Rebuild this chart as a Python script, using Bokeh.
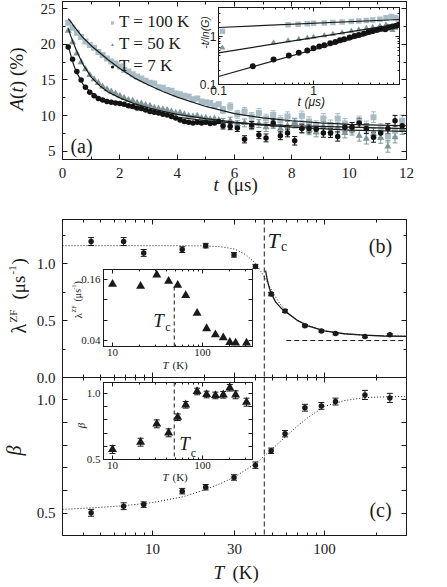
import math
from bokeh.plotting import figure
from bokeh.models import (Range1d, LinearAxis, LogAxis, FixedTicker, Whisker, TeeHead,
                          ColumnDataSource, Label, Span, Legend, LegendItem,
                          BasicTickFormatter, LogTickFormatter, PrintfTickFormatter)
from bokeh.embed import file_html
from bokeh.resources import INLINE

SERIF = "Liberation Serif"
SANS = "Liberation Sans"
INK = "#1a1a1a"
C100 = "#a9bdc6"
C50 = "#7e9599"
C7 = "#111111"

# ---------------- panel (a): asymmetry vs time ----------------
t_dense = [0.2, 0.35, 0.5, 0.65, 0.8, 0.95, 1.1, 1.25, 1.4, 1.55, 1.7, 1.85, 2.0, 2.15, 2.3, 2.45,
           2.6, 2.75, 2.9, 3.05, 3.2, 3.35, 3.5, 3.65, 3.8, 3.95, 4.1, 4.25, 4.4, 4.55, 4.7, 4.85,
           5.0, 5.15, 5.3, 5.45]
A100_dense = [23.0, 22.3, 21.6, 21.0, 20.4, 19.9, 19.5, 18.9, 18.5, 18.0, 17.6, 17.3, 16.9, 16.4, 16.2, 15.8,
              15.5, 15.2, 14.9, 14.6, 14.5, 14.0, 13.9, 13.6, 13.5, 13.1, 13.0, 12.8, 12.7, 12.3, 12.4, 12.0,
              11.9, 11.8, 11.4, 11.6]
A50_dense = [21.9, 20.3, 18.7, 17.5, 16.5, 15.7, 15.1, 14.6, 14.1, 13.7, 13.4, 13.1, 12.8, 12.5, 12.2, 12.1,
             11.8, 11.7, 11.5, 11.4, 11.1, 11.0, 10.9, 10.8, 10.6, 10.4, 10.4, 10.2, 10.0, 9.9, 10.0, 9.7,
             9.7, 9.5, 9.6, 9.4]
A7_dense = [19.6, 17.9, 16.2, 15.0, 14.0, 13.3, 12.8, 12.4, 12.2, 12.0, 11.9, 11.8, 11.7, 11.6, 11.4, 11.3,
            11.1, 11.0, 10.8, 10.6, 10.5, 10.4, 10.2, 10.1, 9.9, 9.7, 9.4, 9.2, 9.1, 9.0, 9.1, 9.0,
            9.1, 8.9, 9.0, 9.2]
t_sparse = [5.6, 5.85, 6.1, 6.35, 6.6, 6.85, 7.1, 7.35, 7.6, 7.85, 8.1, 8.35, 8.6, 8.85, 9.1, 9.35,
            9.6, 9.85, 10.1, 10.35, 10.6, 10.85, 11.1, 11.35, 11.6, 11.85]
A100_sparse = [10.8, 11.3, 10.2, 10.6, 9.9, 10.4, 9.6, 10.1, 9.4, 9.9, 8.9, 10.0, 9.2, 8.6, 9.6, 8.7,
               9.6, 8.9, 8.3, 9.2, 8.5, 9.8, 8.1, 7.1, 7.9, 9.3]
A50_sparse = [9.1, 9.3, 8.8, 9.0, 8.6, 8.9, 8.4, 8.8, 8.2, 8.6, 9.0, 8.3, 8.0, 7.7, 8.5, 7.9,
              8.3, 7.6, 8.0, 7.2, 6.8, 7.5, 6.9, 5.7, 7.0, 8.2]
A7_sparse = [8.6, 8.5, 8.3, 6.7, 8.7, 7.3, 6.9, 9.0, 7.2, 7.6, 6.5, 8.2, 8.2, 8.1, 7.6, 7.6,
             7.1, 8.4, 8.4, 9.0, 8.2, 7.0, 7.6, 8.2, 9.3, 8.6]
err100 = [0.5, 0.5, 0.55, 0.55, 0.55, 0.6, 0.6, 0.6, 0.6, 0.65, 0.65, 0.65, 0.65, 0.7, 0.7, 0.7,
          0.7, 0.7, 0.75, 0.75, 0.75, 0.75, 0.8, 0.8, 0.8, 0.8]
err50 = [0.5, 0.5, 0.5, 0.55, 0.55, 0.55, 0.6, 0.6, 0.6, 0.6, 0.65, 0.65, 0.65, 0.65, 0.7, 0.7,
         0.7, 0.7, 0.7, 0.75, 0.75, 0.75, 0.75, 0.8, 0.8, 0.8]
err7 = [0.45, 0.45, 0.5, 0.5, 0.5, 0.5, 0.55, 0.55, 0.55, 0.55, 0.6, 0.6, 0.6, 0.6, 0.6, 0.65,
        0.65, 0.65, 0.65, 0.65, 0.7, 0.7, 0.7, 0.7, 0.75, 0.75]
t_fit = [0.2, 0.3, 0.4, 0.5, 0.7, 1.0, 1.3, 1.6, 2.0, 2.5, 3.0, 3.5, 4.0, 5.0, 6.0, 7.0, 8.0, 9.0,
         10.0, 11.0, 12.0]
fit100 = [23.6, 23.1, 22.5, 22.0, 21.0, 19.8, 18.8, 17.8, 16.6, 15.3, 14.3, 13.4, 12.6, 11.3, 10.3, 9.7,
          9.3, 9.0, 8.8, 8.7, 8.6]
fit50 = [22.2, 21.0, 20.0, 19.0, 17.3, 15.4, 14.2, 13.3, 12.5, 11.7, 11.1, 10.6, 10.2, 9.6, 9.1, 8.7,
         8.4, 8.2, 8.0, 7.9, 7.8]
fit7 = [19.8, 18.3, 17.0, 16.0, 14.5, 13.2, 12.5, 12.0, 11.5, 11.0, 10.6, 10.2, 9.8, 9.3, 9.0, 8.8,
        8.6, 8.5, 8.4, 8.3, 8.2]
a_xticks = [0, 2, 4, 6, 8, 10, 12]
a_yticks = [5, 10, 15, 20, 25]
legend_labels = ["T = 100 K", "T = 50 K", "T = 7 K"]

# ---------------- inset of (a): -t/ln(G) vs t ----------------
in_t100 = [0.11, 0.54, 0.69, 0.86, 1.0, 1.3, 1.6, 2.0, 2.5, 3.0, 3.6, 4.2, 5.0, 5.8, 6.6, 7.3, 7.9]
in_g100 = [1.29, 1.75, 1.80, 1.84, 1.88, 1.92, 1.96, 2.0, 2.05, 2.1, 2.15, 2.2, 2.3, 2.45, 2.6, 2.45, 2.3]
in_t50 = [0.11, 0.38, 0.54, 0.70, 0.86, 1.0, 1.3, 1.6, 2.0, 2.5, 3.0, 3.6, 4.2, 5.0, 5.8, 6.3, 6.8, 7.3, 7.8]
in_g50 = [0.58, 0.74, 0.82, 0.88, 0.93, 0.97, 1.05, 1.12, 1.20, 1.30, 1.38, 1.48, 1.56, 1.66, 1.75, 1.45,
          1.35, 1.50, 1.70]
in_t7 = [0.23, 0.38, 0.55, 0.70, 0.86, 1.0, 1.15, 1.3, 1.5, 1.7, 1.9, 2.1, 2.4, 2.7, 3.0, 3.4, 3.8, 4.2,
         4.7, 5.2, 5.7, 6.2, 6.8, 7.4, 7.9]
in_g7 = [0.24, 0.33, 0.40, 0.46, 0.51, 0.57, 0.62, 0.66, 0.72, 0.77, 0.84, 0.88, 0.95, 1.02, 1.08, 1.15,
         1.24, 1.30, 1.38, 1.45, 1.42, 1.55, 1.62, 1.68, 1.75]
in_line_t = [0.1, 8.04]
in_line100 = [1.54, 2.26]
in_line50 = [0.457, 1.84]
in_line7 = [0.147, 1.69]

# ---------------- panels (b), (c) ----------------
T_main = [4.4, 6.8, 8.9, 14.9, 20.4, 29.8, 39.7, 49.0, 59.0, 77.0, 96.0, 116.0, 172.0, 240.0]
lam_main = [1.196, 1.196, 1.096, 1.125, 1.16, 1.079, 0.977, 0.734, 0.585, 0.456, 0.41, 0.386, 0.36, 0.375]
lam_err = [0.035, 0.035, 0.03, 0.025, 0.02, 0.02, 0.018, 0.015, 0.012, 0.01, 0.01, 0.01, 0.01, 0.01]
beta_main = [0.503, 0.532, 0.539, 0.598, 0.615, 0.658, 0.712, 0.775, 0.85, 0.964, 0.972, 0.991, 1.02, 1.007]
beta_err = [0.015, 0.015, 0.012, 0.012, 0.012, 0.012, 0.014, 0.012, 0.014, 0.015, 0.015, 0.015, 0.02, 0.02]
T_fitb = [3, 10, 20, 25, 30, 35, 40, 45, 50, 55, 60, 70, 80, 100, 130, 170, 220, 300]
lam_fitb = [1.16, 1.16, 1.158, 1.15, 1.13, 1.08, 1.0, 0.88, 0.75, 0.65, 0.58, 0.5, 0.46, 0.41, 0.385, 0.372,
            0.368, 0.365]
T_crit = [45.5, 46.5, 48, 49, 52, 56, 60, 70, 80, 100, 130, 170, 220, 300]
lam_crit = [0.94, 0.86, 0.78, 0.74, 0.665, 0.61, 0.575, 0.50, 0.455, 0.41, 0.385, 0.372, 0.365, 0.362]
T_bg = [60, 300]
lam_bg = [0.325, 0.325]
T_fitc = [3, 5, 7, 10, 15, 20, 25, 30, 40, 50, 60, 70, 80, 100, 130, 170, 230, 300]
beta_fitc = [0.518, 0.527, 0.535, 0.548, 0.573, 0.603, 0.632, 0.66, 0.72, 0.785, 0.84, 0.885, 0.92, 0.97,
             0.995, 1.008, 1.012, 1.013]
Tc = 44.7
T_ticks = [10, 30, 100]
T_minor = [3, 4, 5, 6, 7, 8, 9, 20, 40, 50, 60, 70, 80, 90, 200, 300]

# insets of (b) and (c)
T_in = [10, 20.5, 31, 42, 53, 65, 87, 111, 139, 170, 201, 233, 308]
lam_in = [0.151, 0.147, 0.169, 0.157, 0.149, 0.129, 0.094, 0.064, 0.052, 0.046, 0.037, 0.036, 0.036]
beta_in = [0.576, 0.631, 0.77, 0.702, 0.82, 0.914, 1.015, 0.992, 0.985, 0.99, 1.043, 0.99, 0.934]
beta_in_err = [0.03, 0.03, 0.03, 0.03, 0.025, 0.025, 0.025, 0.025, 0.025, 0.025, 0.025, 0.03, 0.03]
Tc_in = 48.5
Tc_in_line_lam = [0.0288, 0.147]
T_in_ticks = [10, 100]
T_in_minor = [20, 30, 40, 50, 60, 70, 80, 90, 200, 300]


class Frame:
    def __init__(self, fl, ft, fw, fh, xr, yr, xlog, ylog):
        self.fl, self.ft, self.fw, self.fh = fl, ft, fw, fh
        self.xr, self.yr, self.xlog, self.ylog = xr, yr, xlog, ylog


def mkfig(fr, bl, br, bt, bb, bg=None):
    p = figure(frame_width=fr.fw, frame_height=fr.fh,
               x_range=Range1d(*fr.xr), y_range=Range1d(*fr.yr),
               x_axis_type="log" if fr.xlog else "linear",
               y_axis_type="log" if fr.ylog else "linear",
               output_backend="svg", toolbar_location=None,
               min_border_left=bl, min_border_right=br, min_border_top=bt, min_border_bottom=bb,
               background_fill_color=bg, border_fill_color=None,
               styles={"position": "absolute", "left": f"{fr.fl - bl}px",
                       "top": f"{fr.ft - bt}px"})
    p.xgrid.visible = False
    p.ygrid.visible = False
    p.outline_line_color = INK
    return p


def setup_axes(p, fr, xt, xm, yt, ym, fs, font, tin=5, tmin=3, ytmin=None, xst=8, yst=7,
               xlabels=True, yfmt=None):
    bottom = p.below[0]
    left = p.left[0]
    top = LogAxis() if fr.xlog else LinearAxis()
    right = LogAxis() if fr.ylog else LinearAxis()
    p.add_layout(top, "above")
    p.add_layout(right, "right")
    if ytmin is None:
        ytmin = tmin
    xf = LogTickFormatter(min_exponent=4) if fr.xlog else BasicTickFormatter()
    if yfmt is not None:
        yf = PrintfTickFormatter(format=yfmt)
    else:
        yf = LogTickFormatter(min_exponent=4) if fr.ylog else BasicTickFormatter()
    for ax, t, m, show, st, mlen, f in (
            (bottom, xt, xm, xlabels, xst, tmin, xf), (top, xt, xm, False, 0, tmin, xf),
            (left, yt, ym, True, yst, ytmin, yf), (right, yt, ym, False, 0, ytmin, yf)):
        ax.ticker = FixedTicker(ticks=t, minor_ticks=m)
        ax.major_tick_in = tin
        ax.major_tick_out = 0
        ax.minor_tick_in = mlen
        ax.minor_tick_out = 0
        ax.axis_line_color = INK
        ax.major_tick_line_color = INK
        ax.minor_tick_line_color = INK
        ax.major_label_text_font = font
        ax.major_label_text_font_size = fs
        ax.major_label_text_color = INK
        ax.major_label_standoff = st
        if show:
            ax.formatter = f
        else:
            ax.major_label_overrides = {v: "" for v in t}


def whisk(p, xs, ys, es, color, head=5):
    src = ColumnDataSource(dict(x=xs, lo=[y - e for y, e in zip(ys, es)],
                                hi=[y + e for y, e in zip(ys, es)]))
    w = Whisker(source=src, base="x", lower="lo", upper="hi", line_color=color, line_width=1,
                lower_head=TeeHead(size=head, line_color=color, line_width=1),
                upper_head=TeeHead(size=head, line_color=color, line_width=1))
    p.add_layout(w)


ROT = math.pi / 2

# ================= figure (a) =================
fa = Frame(62, 1, 344, 158, (0, 12), (3.88, 25.98), False, False)
pa = mkfig(fa, 57, 26, 1, 36)
setup_axes(pa, fa, a_xticks, [1, 3, 5, 7, 9, 11], a_yticks, [7.5, 12.5, 17.5, 22.5], "15px", SERIF)
whisk(pa, t_sparse, A100_sparse, err100, C100)
whisk(pa, t_sparse, A50_sparse, err50, C50)
whisk(pa, t_sparse, A7_sparse, err7, C7)
r100 = pa.scatter(t_dense + t_sparse, A100_dense + A100_sparse, marker="square", size=6,
                  color=C100, line_width=0)
r50 = pa.scatter(t_dense + t_sparse, A50_dense + A50_sparse, marker="triangle", size=7,
                 color=C50, line_width=0)
r7 = pa.scatter(t_dense + t_sparse, A7_dense + A7_sparse, marker="circle", size=5.5,
                color=C7, line_width=0)
for f in (fit100, fit50, fit7):
    pa.line(t_fit, f, line_color=INK, line_width=1.2)
leg = Legend(items=[LegendItem(label=legend_labels[0], renderers=[r100]),
                    LegendItem(label=legend_labels[1], renderers=[r50]),
                    LegendItem(label=legend_labels[2], renderers=[r7])],
             location=(46, 83), glyph_width=8, glyph_height=17, label_height=17, spacing=2,
             padding=0, margin=0, label_standoff=3, border_line_color=None,
             background_fill_alpha=0, label_text_font=SERIF, label_text_font_size="17px",
             label_text_color=INK)
pa.add_layout(leg)

# ================= inset of (a) =================
fi = Frame(218, 7, 181, 77, (0.1, 8.04), (0.1, 4.02), True, True)
pi_ = mkfig(fi, 25, 4, 4, 24, bg="white")
setup_axes(pi_, fi, [0.1, 1], [0.2, 0.3, 0.4, 0.5, 0.6, 0.7, 0.8, 0.9, 2, 3, 4, 5, 6, 7, 8],
           [0.1, 1], [0.2, 0.3, 0.4, 0.5, 0.6, 0.7, 0.8, 0.9, 2, 3, 4], "12px", SANS,
           tin=4, tmin=2, xst=1, yst=2)
pi_.scatter(in_t100, in_g100, marker="square", size=5.5, color=C100, line_width=0)
pi_.scatter(in_t50, in_g50, marker="triangle", size=6, color=C50, line_width=0)
pi_.scatter(in_t7, in_g7, marker="circle", size=6, color=C7, line_width=0)
for g in (in_line100, in_line50, in_line7):
    pi_.line(in_line_t, g, line_color=INK, line_width=1.2)

# ================= figure (b) =================
fb = Frame(62, 219, 344, 158, (3, 300), (0, 1.39), True, False)
pb = mkfig(fb, 57, 26, 8, 12)
setup_axes(pb, fb, T_ticks, T_minor, [0, 0.5, 1.0], [0.25, 0.75, 1.25], "15px", SERIF,
           xlabels=False, yfmt="%.1f")
pb.add_layout(Span(location=Tc, dimension="height", line_color=INK, line_dash="5 3", line_width=1))
pb.line(T_fitb, lam_fitb, line_color=INK, line_dash="1 2", line_width=1)
pb.line(T_crit, lam_crit, line_color=INK, line_width=1.3)
pb.line(T_bg, lam_bg, line_color=INK, line_dash="5 3", line_width=1)
whisk(pb, T_main, lam_main, lam_err, INK, head=6)
pb.scatter(T_main, lam_main, marker="circle", size=5.5, color=INK, line_width=0)

# ================= figure (c) =================
fc = Frame(62, 377, 344, 158, (3, 300), (0.4035, 1.0965), True, False)
pc = mkfig(fc, 57, 26, 4, 40)
setup_axes(pc, fc, T_ticks, T_minor, [0.5, 1.0], [0.6, 0.7, 0.8, 0.9], "15px", SERIF, ytmin=5,
           yfmt="%.1f")
pc.add_layout(Span(location=Tc, dimension="height", line_color=INK, line_dash="5 3", line_width=1))
pc.line(T_fitc, beta_fitc, line_color=INK, line_dash="1 2", line_width=1)
whisk(pc, T_main, beta_main, beta_err, INK, head=6)
pc.scatter(T_main, beta_main, marker="circle", size=5.5, color=INK, line_width=0)

# ================= inset of (b) =================
fib = Frame(103, 269, 149, 77, (7.94, 359), (0.0288, 0.1797), True, False)
pib = mkfig(fib, 35, 4, 4, 20, bg="white")
setup_axes(pib, fib, T_in_ticks, T_in_minor, [0.04, 0.16], [0.08, 0.12], "11px", SERIF,
           tin=4, tmin=2, ytmin=4, xst=2, yst=3, yfmt="%.2f")
pib.line([Tc_in, Tc_in], Tc_in_line_lam, line_color=INK, line_dash="4 3", line_width=1)
pib.scatter(T_in, lam_in, marker="triangle", size=9, color=INK, line_width=0)

# ================= inset of (c) =================
fic = Frame(103, 382, 149, 77, (7.94, 359), (0.5, 1.083), True, False)
pic = mkfig(fic, 35, 4, 4, 20, bg="white")
setup_axes(pic, fic, T_in_ticks, T_in_minor, [0.5, 1.0], [0.6, 0.7, 0.8, 0.9], "11px", SERIF,
           tin=4, tmin=2, ytmin=4, xst=2, yst=3, yfmt="%.1f")
pic.add_layout(Span(location=Tc_in, dimension="height", line_color=INK, line_dash="4 3",
                    line_width=1))
whisk(pic, T_in, beta_in, beta_in_err, INK, head=6)
pic.scatter(T_in, beta_in, marker="triangle", size=9, color=INK, line_width=0)

# ================= text overlay (page pixel coordinates) =================
po = figure(width=447, height=587, x_range=Range1d(0, 447), y_range=Range1d(587, 0),
            output_backend="svg", toolbar_location=None, x_axis_location=None,
            y_axis_location=None, min_border_left=0, min_border_right=0, min_border_top=0,
            min_border_bottom=0, background_fill_color=None,
            border_fill_color=None, outline_line_color=None,
            styles={"position": "absolute", "left": "0px", "top": "0px",
                    "pointer-events": "none"})
po.xgrid.visible = False
po.ygrid.visible = False


def lab(px, py, text, size, font=SERIF, style="normal", align="center", angle=0.0):
    po.add_layout(Label(x=px, y=py, text=text, text_font=font, text_font_size=f"{size}px",
                        text_font_style=style, text_align=align, text_baseline="middle",
                        angle=angle, text_color=INK))


# (a)
lab(81, 145, "(a)", 20)
lab(16, 110, "A", 19, style="italic", align="left", angle=ROT)
lab(16, 98.4, "(", 19, align="left", angle=ROT)
lab(16, 92.1, "t", 19, style="italic", align="left", angle=ROT)
lab(16, 86.8, ")", 19, align="left", angle=ROT)
lab(16, 75.5, "(%)", 19, align="left", angle=ROT)
lab(213, 183.5, "t", 19, style="italic", align="left")
lab(227, 183.5, "(\u03bcs)", 19, align="left")
# inset (a)
lab(204, 32, "-t/ln(G)", 10.5, font=SANS, style="italic", angle=ROT)
lab(297, 101, "t", 12, font=SANS, style="italic", align="left")
lab(304, 101, "(\u03bcs)", 12, font=SANS, style="italic", align="left")
# (b)
lab(380, 245, "(b)", 20)
lab(273, 240, "T", 22, style="italic")
lab(283.5, 246, "c", 14)
lab(18, 333, "\u03bb", 20, align="left", angle=ROT)
lab(12, 322, "ZF", 11, align="left", angle=ROT)
lab(18, 299, "(\u03bcs", 19, align="left", angle=ROT)
lab(12, 274, "-1", 11, align="left", angle=ROT)
lab(18, 264, ")", 19, align="left", angle=ROT)
# (c)
lab(380, 509, "(c)", 20)
lab(13, 450, "\u03b2", 20, style="italic", angle=ROT)
lab(213, 572, "T", 19, style="italic", align="left")
lab(232, 572, "(K)", 19, align="left")
# inset (b)
lab(158, 320, "T", 19, style="italic")
lab(167.5, 326, "c", 12)
lab(162, 364, "T", 11, style="italic", align="left")
lab(172, 364, "(K)", 11, align="left")
lab(77, 318, "\u03bb", 11, align="left", angle=ROT)
lab(73, 312, "ZF", 6, align="left", angle=ROT)
lab(77, 301, "(\u03bcs", 10, align="left", angle=ROT)
lab(73, 289, "-1", 6, align="left", angle=ROT)
lab(77, 284, ")", 10, align="left", angle=ROT)
# inset (c)
lab(184, 443, "T", 19, style="italic")
lab(193, 452, "c", 12)
lab(162, 476, "T", 11, style="italic", align="left")
lab(172, 476, "(K)", 11, align="left")
lab(80, 425, "\u03b2", 11, style="italic", angle=ROT)

roots = [pa, pi_, pb, pc, pib, pic, po]
open("out.html", "w").write(file_html(roots, INLINE))
